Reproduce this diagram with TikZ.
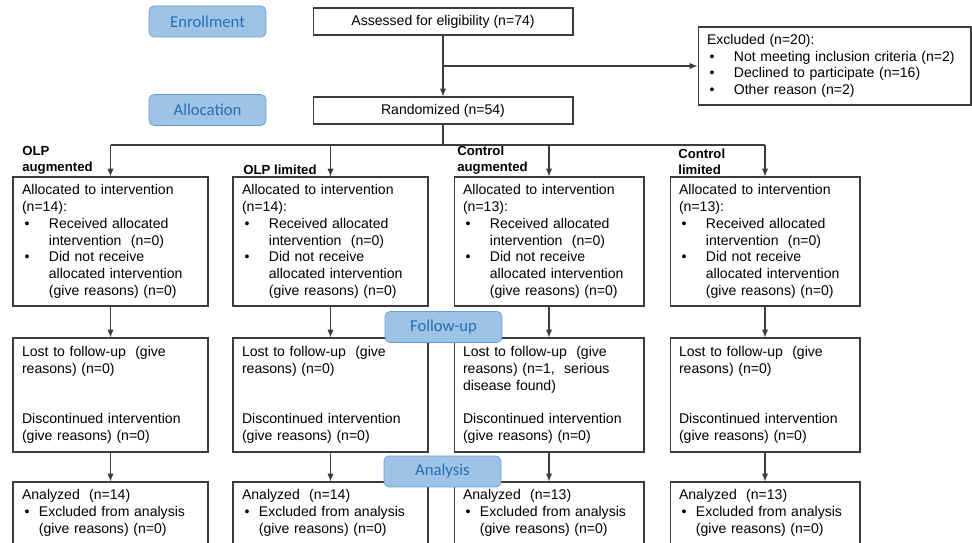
\documentclass[tikz,border=0pt]{standalone}
\usepackage{fontspec}
\setmainfont{Liberation Sans}
\newfontfamily\stagefont{Carlito}
\usetikzlibrary{arrows.meta,positioning}

\definecolor{stagefill}{RGB}{157,195,230}
\definecolor{stageline}{RGB}{110,155,205}
\definecolor{stagetext}{RGB}{40,110,180}
\definecolor{boxline}{RGB}{60,60,60}

\newcommand{\itm}{\makebox[15.3pt][l]{\hspace{1.5pt}\textbullet}}
\newcommand{\ind}{\hspace*{15.3pt}}
\newcommand{\itmb}{\makebox[9.6pt][l]{\hspace{1.5pt}\textbullet}}
\newcommand{\indb}{\hspace*{9.6pt}}

\begin{document}
\begin{tikzpicture}[x=0.02cm, y=-0.02cm,
		box/.style={draw=boxline, line width=0.6pt, align=left, inner xsep=0.18cm, inner ysep=0pt, font=\fontsize{8}{9.6}\selectfont},
		single/.style={box, align=center, minimum width=5.2cm, minimum height=0.54cm},
		stage/.style={draw=stageline, fill=stagefill, rounded corners=0.1cm, minimum width=2.34cm, minimum height=0.62cm, inner sep=0pt, text=stagetext, font=\stagefont\fontsize{9.5}{11}\selectfont},
		arm/.style={font=\bfseries\fontsize{7.5}{9.1}\selectfont, align=left, anchor=south west, inner sep=0pt},
		line/.style={draw=boxline, line width=0.6pt},
		arr/.style={line, -{Latex[length=4.5pt,width=3.6pt]}}]
			\useasboundingbox (0,0) rectangle (972,543);
			\clip (0,0) rectangle (972,543);

			\node[single]                          (assess) at (443,21.5)  {Assessed for eligibility (n=74)};
			\node[single]                          (rand)   at (443,110.5) {Randomized (n=54)};
			\node[box, text width=5.10cm, minimum height=1.56cm, font=\fontsize{8}{9.4}\selectfont] (excl) at (834.5,66)
				{Excluded (n=20):\\\itm Not meeting inclusion criteria (n=2)\\\itm Declined to participate (n=16)\\\itm Other reason (n=2)};

			\node[arm] (head1) at (22,175)  {OLP\\augmented};
			\node[arm] (head2) at (243,175) {OLP limited};
			\node[arm] (head3) at (457,175) {Control\\augmented};
			\node[arm] (head4) at (678,175) {Control\\limited};

			\node[box, text width=3.54cm, minimum height=2.58cm] (alloc1) at (110.5,241.5)
				{Allocated to intervention\\(n=14):\\\itm Received allocated\\\ind intervention~ (n=0)\\\itm Did not receive\\\ind allocated intervention\\\ind (give reasons) (n=0)};
			\node[box, text width=3.54cm, minimum height=2.58cm] (alloc2) at (330.5,241.5)
				{Allocated to intervention\\(n=14):\\\itm Received allocated\\\ind intervention~ (n=0)\\\itm Did not receive\\\ind allocated intervention\\\ind (give reasons) (n=0)};
			\node[box, text width=3.44cm, minimum height=2.58cm] (alloc3) at (549,241.5)
				{Allocated to intervention\\(n=13):\\\itm Received allocated\\\ind intervention~ (n=0)\\\itm Did not receive\\\ind allocated intervention\\\ind (give reasons) (n=0)};
			\node[box, text width=3.44cm, minimum height=2.58cm] (alloc4) at (765,241.5)
				{Allocated to intervention\\(n=13):\\\itm Received allocated\\\ind intervention~ (n=0)\\\itm Did not receive\\\ind allocated intervention\\\ind (give reasons) (n=0)};

			\node[box, text width=3.54cm, minimum height=2.28cm] (lost1) at (110.5,395)
				{Lost to follow-up~ (give\\reasons) (n=0)\\[19.2pt]Discontinued intervention\\(give reasons) (n=0)};
			\node[box, text width=3.54cm, minimum height=2.28cm] (lost2) at (330.5,395)
				{Lost to follow-up~ (give\\reasons) (n=0)\\[19.2pt]Discontinued intervention\\(give reasons) (n=0)};
			\node[box, text width=3.44cm, minimum height=2.28cm] (lost3) at (549,395)
				{Lost to follow-up~ (give\\reasons) (n=1,~ serious\\disease found)\\[9.6pt]Discontinued intervention\\(give reasons) (n=0)};
			\node[box, text width=3.44cm, minimum height=2.28cm] (lost4) at (765,395)
				{Lost to follow-up~ (give\\reasons) (n=0)\\[19.2pt]Discontinued intervention\\(give reasons) (n=0)};

			\node[box, text width=3.54cm, minimum height=1.24cm] (anal1) at (110.5,513)
				{Analyzed~ (n=14)\\\itmb Excluded from analysis\\\indb (give reasons) (n=0)};
			\node[box, text width=3.54cm, minimum height=1.24cm] (anal2) at (330.5,513)
				{Analyzed~ (n=14)\\\itmb Excluded from analysis\\\indb (give reasons) (n=0)};
			\node[box, text width=3.44cm, minimum height=1.24cm] (anal3) at (549,513)
				{Analyzed~ (n=13)\\\itmb Excluded from analysis\\\indb (give reasons) (n=0)};
			\node[box, text width=3.44cm, minimum height=1.24cm] (anal4) at (765,513)
				{Analyzed~ (n=13)\\\itmb Excluded from analysis\\\indb (give reasons) (n=0)};

			\coordinate (split) at (443,145);
			\draw[arr]  (assess) -- (rand);
			\draw[arr]  (assess.south |- excl.west) -- (excl.west);
			\draw[line] (rand) -- (split);
			\draw[line] (alloc1.north |- split) -- (alloc4.north |- split);
			\foreach \i in {1,...,4} {
				\draw[arr] (alloc\i.north |- split) -- (alloc\i);
				\draw[arr] (alloc\i) -- (lost\i);
				\draw[arr] (lost\i) -- (anal\i);
			}

			\node[stage] (enroll)   at (207.5,21.5)  {Enrollment};
			\node[stage] (allocate) at (207.5,110)   {Allocation};
			\node[stage] (follow)   at (443.5,327)   {Follow-up};
			\node[stage] (analyse)  at (442.5,471.5) {Analysis};
		\end{tikzpicture}
\end{document}
